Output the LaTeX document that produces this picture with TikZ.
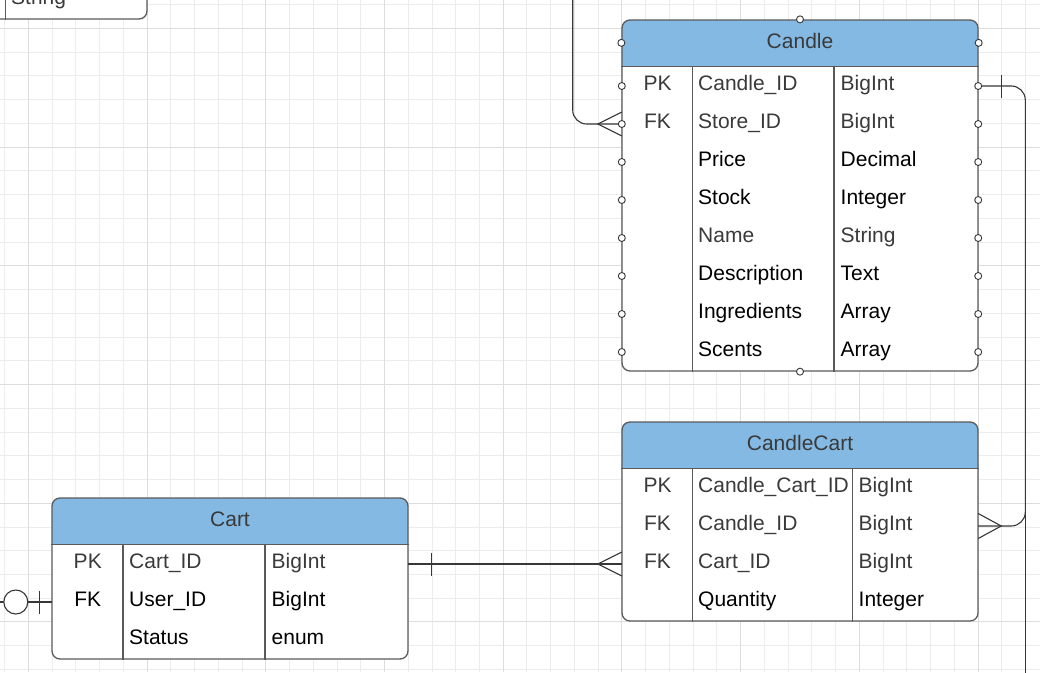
\documentclass[tikz,border=0pt]{standalone}
\usepackage{fontspec}
\setmainfont{Liberation Sans}
\usetikzlibrary{calc}
\definecolor{hdr}{RGB}{131,185,227}
\definecolor{gtxt}{RGB}{58,58,58}
\definecolor{linec}{RGB}{90,90,90}
\definecolor{connc}{RGB}{55,55,55}
\definecolor{gridminor}{RGB}{236,236,236}
\definecolor{gridmajor}{RGB}{221,221,221}
\begin{document}
\begin{tikzpicture}[x=1pt,y=-1pt,
  every node/.style={font=\fontsize{21}{25}\selectfont},
  erbox/.style={draw=linec, line width=1.3pt, rounded corners=8pt, fill=white, inner sep=0pt,
    path picture={\fill[hdr, sharp corners] (path picture bounding box.north west) rectangle ([yshift=-47pt]path picture bounding box.north east);}},
  sepline/.style={draw=linec, line width=1.3pt},
  rowslot/.style={inner sep=0pt, minimum height=38pt},
  ttl/.style={anchor=base, text=gtxt, inner sep=0pt},
  keyt/.style={anchor=base, inner sep=0pt},
  fld/.style={anchor=base west, inner sep=0pt},
  conn/.style={draw=connc, line width=1.1pt},
  dot/.style={draw=connc, fill=white, line width=0.9pt},
]
\useasboundingbox (0,0) rectangle (1040,672);
\clip (0,0) rectangle (1040,672);
\fill[white] (0,0) rectangle (1040,672);
% grid
\foreach \k in {-2,...,43} {
  \draw[gridminor, line width=0.9pt] ({28.4+23.74*\k},0) -- ({28.4+23.74*\k},672);
}
\foreach \k in {-2,...,28} {
  \draw[gridminor, line width=0.9pt] (0,{28.4+23.74*\k}) -- (1040,{28.4+23.74*\k});
}
\foreach \k in {0,...,8} {
  \draw[gridmajor, line width=1pt] ({28.4+118.7*\k},0) -- ({28.4+118.7*\k},672);
}
\foreach \k in {0,...,5} {
  \draw[gridmajor, line width=1pt] (0,{28.4+118.7*\k}) -- (1040,{28.4+118.7*\k});
}

% partial table at top left
\node[draw=linec, line width=1.3pt, rounded corners=8pt, fill=white, inner sep=0pt,
      minimum width=300pt, minimum height=100pt] (strbox) at (-3,-31) {};
\draw[sepline] ($(strbox.south east)+(-142.3,0)$) -- ($(strbox.north east)+(-142.3,0)$);
\node[fld, text=gtxt] (strbox-t) at (11,4) {String};

% Candle table
\node[erbox, minimum width=356pt, minimum height=351pt] (candle) at (800,195.5) {};
\draw[sepline] ($(candle.north west)+(0,47)$) -- ($(candle.north east)+(0,47)$);
\draw[sepline] ($(candle.north west)+(71,47)$) -- ($(candle.south west)+(71,0)$);
\draw[sepline] ($(candle.north west)+(212.5,47)$) -- ($(candle.south west)+(212.5,0)$);
\node[ttl] (candle-title) at (800,48.5) {Candle};
\foreach \i/\n/\t/\c in {1/Candle\_ID/BigInt/gtxt, 2/Store\_ID/BigInt/gtxt, 3/Price/Decimal/black, 4/Stock/Integer/black, 5/Name/String/gtxt, 6/Description/Text/black, 7/Ingredients/Array/black, 8/Scents/Array/black} {
  \node[rowslot, minimum width=356pt] (cd-r\i) at (800,{86+38*(\i-1)}) {};
  \node[fld, text=\c] (cd-n\i) at (698,{90+38*(\i-1)}) {\n};
  \node[fld, text=\c] (cd-t\i) at (840.5,{90+38*(\i-1)}) {\t};
}
\node[keyt, text=gtxt] (cd-k1) at (657.5,90) {PK};
\node[keyt, text=gtxt] (cd-k2) at (657.5,128) {FK};

% CandleCart table
\node[erbox, minimum width=356pt, minimum height=199pt] (ccart) at (800,521.5) {};
\draw[sepline] ($(ccart.north west)+(0,47)$) -- ($(ccart.north east)+(0,47)$);
\draw[sepline] ($(ccart.north west)+(71,47)$) -- ($(ccart.south west)+(71,0)$);
\draw[sepline] ($(ccart.north west)+(231,47)$) -- ($(ccart.south west)+(231,0)$);
\node[ttl] (ccart-title) at (800,450.5) {CandleCart};
\foreach \i/\n/\t/\c in {1/Candle\_Cart\_ID/BigInt/gtxt, 2/Candle\_ID/BigInt/gtxt, 3/Cart\_ID/BigInt/gtxt, 4/Quantity/Integer/black} {
  \node[rowslot, minimum width=356pt] (cc-r\i) at (800,{488+38*(\i-1)}) {};
  \node[fld, text=\c] (cc-n\i) at (698,{492+38*(\i-1)}) {\n};
  \node[fld, text=\c] (cc-t\i) at (858.5,{492+38*(\i-1)}) {\t};
}
\node[keyt, text=gtxt] (cc-k1) at (657.5,492) {PK};
\node[keyt, text=gtxt] (cc-k2) at (657.5,530) {FK};
\node[keyt, text=gtxt] (cc-k3) at (657.5,568) {FK};

% Cart table
\node[erbox, minimum width=356pt, minimum height=161pt] (cart) at (230,578.5) {};
\draw[sepline] ($(cart.north west)+(0,47)$) -- ($(cart.north east)+(0,47)$);
\draw[sepline] ($(cart.north west)+(71.5,47)$) -- ($(cart.south west)+(71.5,0)$);
\draw[sepline] ($(cart.north west)+(213.5,47)$) -- ($(cart.south west)+(213.5,0)$);
\node[ttl] (cart-title) at (230,526.5) {Cart};
\foreach \i/\n/\t/\c in {1/Cart\_ID/BigInt/gtxt, 2/User\_ID/BigInt/black, 3/Status/enum/black} {
  \node[rowslot, minimum width=356pt] (ct-r\i) at (230,{564+38*(\i-1)}) {};
  \node[fld, text=\c] (ct-n\i) at (129,{568+38*(\i-1)}) {\n};
  \node[fld, text=\c] (ct-t\i) at (271.5,{568+38*(\i-1)}) {\t};
}
\node[keyt, text=gtxt] (ct-k1) at (87.75,568) {PK};
\node[keyt, text=black] (ct-k2) at (87.75,606) {FK};

% connector: Store (off picture) -> Candle.Store_ID
\coordinate (storeTop) at (572.7,-5);
\draw[conn, rounded corners=14pt] (storeTop) |- (cd-r2.west);
\draw[conn] ($(cd-r2.west)+(0,-12)$) -- ($(cd-r2.west)+(-24,0)$) -- ($(cd-r2.west)+(0,12)$);

% connector: Candle.Candle_ID -> CandleCart.Candle_ID
\coordinate (rail) at (1025.3,680);
\draw[conn, rounded corners=14pt] (cd-r1.east) -- (cd-r1.east -| rail) -- (cc-r2.east -| rail) -- (cc-r2.east);
\draw[conn] ($(cd-r1.east -| rail)+(0,14)$) -- (rail);
\draw[conn] ($(cd-r1.east)+(23.7,-11.5)$) -- ($(cd-r1.east)+(23.7,11.5)$);
\draw[conn] ($(cc-r2.east)+(0,-12.5)$) -- ($(cc-r2.east)+(23,0)$) -- ($(cc-r2.east)+(0,12.5)$);

% connector: Cart.Cart_ID -> CandleCart.Cart_ID
\draw[conn] (ct-r1.east) -- (cc-r3.west);
\draw[conn] ($(ct-r1.east)+(23.5,-11.5)$) -- ($(ct-r1.east)+(23.5,11.5)$);
\draw[conn] ($(cc-r3.west)+(0,-12)$) -- ($(cc-r3.west)+(-24,0)$) -- ($(cc-r3.west)+(0,12)$);

% connector: (off picture) -> Cart.User_ID, zero or one
\coordinate (cartLeft) at (-5,602);
\draw[conn] (cartLeft) -- (ct-r2.west);
\draw[conn, fill=white] ($(ct-r2.west)+(-36,0)$) circle (12pt);
\draw[conn] ($(ct-r2.west)+(-12.7,-11.5)$) -- ($(ct-r2.west)+(-12.7,11.5)$);

% selection handles on Candle
\foreach \i in {1,...,8} {
  \draw[dot] (cd-r\i.west) circle (3.5pt);
  \draw[dot] (cd-r\i.east) circle (3.5pt);
}
\draw[dot] ($(candle.north west)+(0,23.5)$) circle (3.5pt);
\draw[dot] ($(candle.north east)+(0,23.5)$) circle (3.5pt);
\draw[dot] (candle.north) circle (3.5pt);
\draw[dot] (candle.south) circle (3.5pt);
\end{tikzpicture}
\end{document}
